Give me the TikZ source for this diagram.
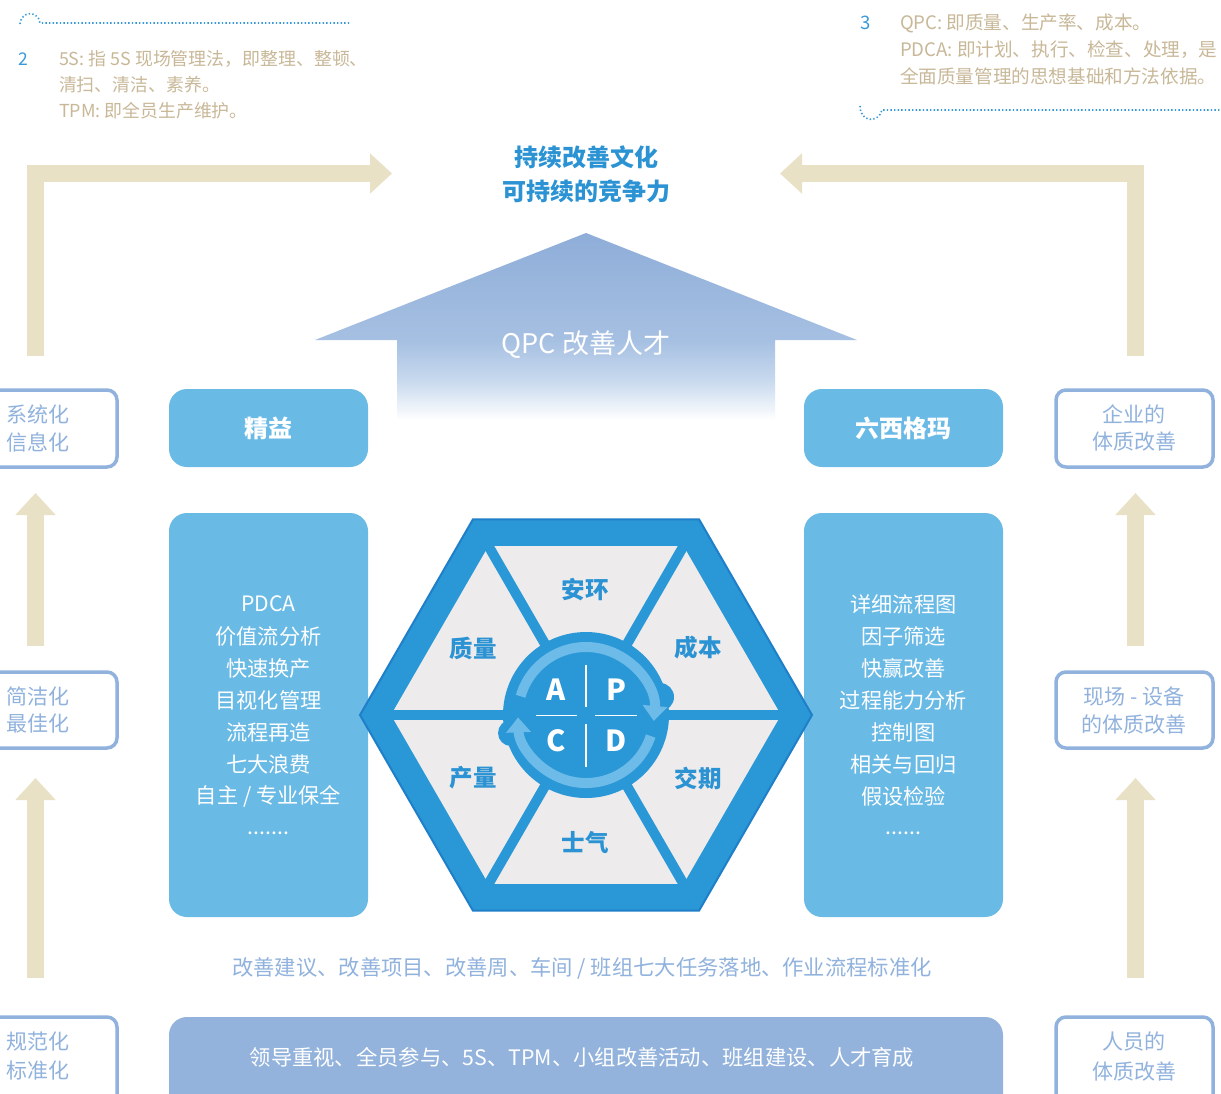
\documentclass[tikz,border=0pt]{standalone}
\usepackage{fontspec}
\setmainfont{Noto Sans CJK SC}
\usetikzlibrary{arrows.meta,calc,shapes.geometric}
\definecolor{tanA}{HTML}{E8E1C6}
\definecolor{noteTan}{HTML}{C8B898}
\definecolor{noteBlue}{HTML}{3A9AD9}
\definecolor{titleBlue}{HTML}{2B93D3}
\definecolor{boxBlue}{HTML}{6ABAE6}
\definecolor{hexBlue}{HTML}{2A97D6}
\definecolor{hexDark}{HTML}{1F7FC8}
\definecolor{triGrey}{HTML}{EDEBEB}
\definecolor{ringLight}{HTML}{6CBBE8}
\definecolor{paleBlue}{HTML}{90B2DD}
\definecolor{barBlue}{HTML}{93B3DC}
\definecolor{qa}{HTML}{8EADD8}
\definecolor{qb}{HTML}{A6C0E2}
\definecolor{qc}{HTML}{C8D9EE}
\pgfdeclareverticalshading{qpcfade}{100bp}{color(0bp)=(white); color(28bp)=(white); color(38bp)=(qc); color(48bp)=(qb); color(75bp)=(qa); color(100bp)=(qa)}
\begin{document}
\begin{tikzpicture}[x=1pt,y=-1pt,
  txt/.style={inner sep=0pt, outer sep=0pt},
  notetxt/.style={txt, text=noteTan, anchor=west, font=\fontsize{17.9}{20}\selectfont},
  notetxtR/.style={txt, text=noteTan, anchor=west, font=\fontsize{18.6}{22}\selectfont},
  notenum/.style={txt, text=noteBlue},
  dotline/.style={noteBlue, line width=1.6pt, dash pattern=on 1.4pt off 2.2pt},
  sidebox/.style={draw=paleBlue, line width=3.5pt, fill=white, rounded corners=10pt, minimum width=157pt, outer sep=0pt, inner sep=0pt},
  sidetxt/.style={txt, text=paleBlue, font=\fontsize{21}{24}\selectfont},
  tanup/.style={draw=tanA, line width=17pt, -{Triangle[width=39pt,length=22pt]}},
  solidbox/.style={fill=boxBlue, rounded corners=18pt, minimum width=199pt, outer sep=0pt, inner sep=0pt},
  headtxt/.style={text=white, font=\fontsize{24}{26}\selectfont\bfseries},
  listtxt/.style={txt, text=white, font=\fontsize{21.2}{24}\selectfont},
  seglabel/.style={txt, text=titleBlue, font=\fontsize{23.5}{26}\selectfont\bfseries},
  pdca/.style={txt, text=white, font=\fontsize{29}{32}\selectfont\bfseries},
  ringarc/.style={ringLight, line width=10pt, -{Triangle[width=24pt,length=15pt]}},
]
\useasboundingbox (0,0) rectangle (1221,1093);
\clip (0,0) rectangle (1221,1093);
\fill[white] (0,0) rectangle (1221,1093);

% ---- notes ----
\draw[dotline] (20,24) .. controls (21,11) and (38,10) .. (40,23) -- (350,23);
\node[notenum, font=\fontsize{17.5}{20}\selectfont] (n2) at (23,59) {2};
\node[notetxt] (n2a) at (59,59) {5S: 指 5S 现场管理法，即整理、整顿、};
\node[notetxt] (n2b) at (59,85) {清扫、清洁、素养。};
\node[notetxt] (n2c) at (59,111) {TPM: 即全员生产维护。};

\draw[dotline] (860,106) .. controls (860,123) and (879,123) .. (882,110) -- (1221,110);
\node[notenum, font=\fontsize{18.6}{22}\selectfont] (n3) at (866,23) {3};
\node[notetxtR] (n3a) at (900,23) {QPC: 即质量、生产率、成本。};
\node[notetxtR] (n3b) at (900,49.5) {PDCA: 即计划、执行、检查、处理，是};
\node[notetxtR] (n3c) at (900,76) {全面质量管理的思想基础和方法依据。};

% ---- title ----
\node[txt, text=titleBlue, font=\fontsize{24}{28}\selectfont\bfseries] (title1) at (586,157) {持续改善文化};
\node[txt, text=titleBlue, font=\fontsize{24}{28}\selectfont\bfseries] (title2) at (586,191) {可持续的竞争力};
\coordinate (tl) at (392,173.5);
\coordinate (tr) at (780,173.5);
\coordinate (xl) at (35.5,0);
\coordinate (xr) at (1135.5,0);

% ---- QPC arrow ----
\path[shading=qpcfade] (586,233) -- (857,340) -- (775,340) -- (775,432) -- (397,432) -- (397,340) -- (315,340) -- cycle;
\node[txt, text=white, font=\fontsize{27}{30}\selectfont] (qpc) at (586,345) {QPC 改善人才};

% ---- side boxes ----
\node[sidebox, minimum height=77pt] (s1) at (38.5,428.5) {};
\node[sidebox, minimum height=76pt] (s2) at (38.5,710) {};
\node[sidebox, minimum height=103pt] (s3) at (38.5,1068.5) {};
\node[sidebox, minimum height=77pt] (r1) at (1134.5,428.5) {};
\node[sidebox, minimum height=76pt] (r2) at (1134.5,710) {};
\node[sidebox, minimum height=103pt] (r3) at (1134.5,1068.5) {};

\node[sidetxt, anchor=west] (s1a) at (6,414) {系统化};
\node[sidetxt, anchor=west] (s1b) at (6,442) {信息化};
\node[sidetxt, anchor=west] (s2a) at (6,696) {简洁化};
\node[sidetxt, anchor=west] (s2b) at (6,724) {最佳化};
\node[sidetxt, anchor=west] (s3a) at (6,1042) {规范化};
\node[sidetxt, anchor=west] (s3b) at (6,1071) {标准化};
\node[sidetxt] (r1a) at (1134,414) {企业的};
\node[sidetxt] (r1b) at (1134,442) {体质改善};
\node[sidetxt] (r2a) at (1134,697) {现场 - 设备};
\node[sidetxt] (r2b) at (1134,725) {的体质改善};
\node[sidetxt] (r3a) at (1134,1042) {人员的};
\node[sidetxt] (r3b) at (1134,1072) {体质改善};

% ---- tan arrows ----
\draw[tanup, shorten <=26pt, shorten >=26pt] (s2.north -| xl) -- (s1.south -| xl);
\draw[tanup, shorten <=39pt, shorten >=30pt] (s3.north -| xl) -- (s2.south -| xl);
\draw[tanup, shorten <=26pt, shorten >=26pt] (r2.north -| xr) -- (r1.south -| xr);
\draw[tanup, shorten <=39pt, shorten >=30pt] (r3.north -| xr) -- (r2.south -| xr);
\draw[tanup, shorten <=34pt] (s1.north -| xl) |- (tl);
\draw[tanup, shorten <=34pt] (r1.north -| xr) |- (tr);

% ---- solid boxes ----
\node[solidbox, minimum height=78pt, headtxt] (lean) at (268.5,428) {精益};
\node[solidbox, minimum height=78pt, headtxt] (six) at (903.5,428) {六西格玛};
\node[solidbox, minimum height=404pt] (leanlist) at (268.5,715) {};
\node[solidbox, minimum height=404pt] (sixlist) at (903.5,715) {};
\foreach \t [count=\i] in {PDCA,价值流分析,快速换产,目视化管理,流程再造,七大浪费,自主 / 专业保全}
  \node[listtxt] (ll\i) at (268.5,572+32*\i) {\t};
\node[listtxt, anchor=base] (lldots) at (268.5,834) {.......};
\foreach \t [count=\i] in {详细流程图,因子筛选,快赢改善,过程能力分析,控制图,相关与回归,假设检验}
  \node[listtxt] (sl\i) at (903.5,572+32*\i) {\t};
\node[listtxt, anchor=base] (sldots) at (903.5,834) {......};

% ---- hexagon ----
\node[regular polygon, regular polygon sides=6, minimum size=452pt, inner sep=0pt, outer sep=0pt, fill=hexBlue, draw=hexDark, line width=2pt] (hex) at (586,715) {};
\node[regular polygon, regular polygon sides=6, minimum size=390pt, inner sep=0pt, outer sep=0pt, fill=triGrey] (inner) at (586,715) {};
\foreach \i/\j in {1/4,2/5,3/6}
  \draw[hexBlue, line width=10pt] (inner.corner \i) -- (inner.corner \j);

\node[circle, fill=hexBlue, minimum size=166pt, inner sep=0pt] (disc) at (586,715) {};
\fill[hexBlue] (660,697) circle[radius=14pt];
\fill[hexBlue] (511,733) circle[radius=13pt];
\draw[ringarc] ($(disc.center)+(-164:68)$) arc[start angle=-164, end angle=5, radius=68];
\draw[ringarc] ($(disc.center)+(18:68)$) arc[start angle=18, end angle=178, radius=68];
\draw[white, line width=1.5pt] (586,665) -- (586,707);
\draw[white, line width=1.5pt] (586,724) -- (586,767);
\draw[white, line width=1.5pt] (536,715.5) -- (577,715.5);
\draw[white, line width=1.5pt] (595,715.5) -- (637,715.5);
\node[pdca] (pA) at (556,690) {A};
\node[pdca] (pP) at (616,690) {P};
\node[pdca] (pC) at (556,741) {C};
\node[pdca] (pD) at (616,741) {D};

\node[seglabel] (g1) at (585,590) {安环};
\node[seglabel] (g2) at (473,648) {质量};
\node[seglabel] (g3) at (698,648) {成本};
\node[seglabel] (g4) at (473,778) {产量};
\node[seglabel] (g5) at (698,778) {交期};
\node[seglabel] (g6) at (585,843) {士气};

% ---- bottom ----
\node[txt, text=paleBlue, font=\fontsize{21.3}{24}\selectfont] (impl) at (582,968) {改善建议、改善项目、改善周、车间 / 班组七大任务落地、作业流程标准化};
\node[fill=barBlue, rounded corners=18pt, minimum width=834pt, minimum height=110pt, inner sep=0pt, outer sep=0pt] (base) at (586,1072) {};
\node[txt, text=white, font=\fontsize{21.3}{24}\selectfont] (basetxt) at (582,1057) {领导重视、全员参与、5S、TPM、小组改善活动、班组建设、人才育成};
\end{tikzpicture}
\end{document}
